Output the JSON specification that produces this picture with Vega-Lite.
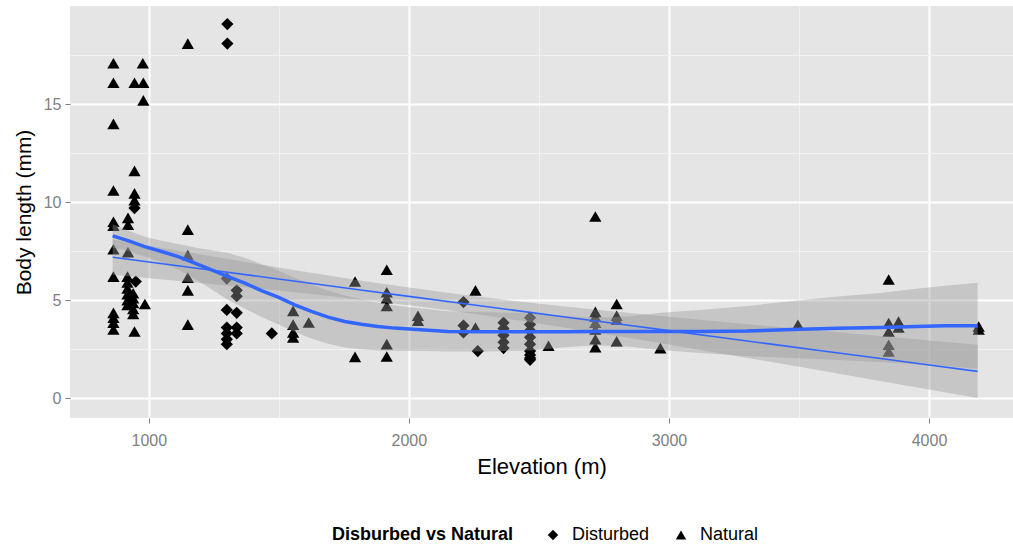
{
  "$schema": "https://vega.github.io/schema/vega-lite/v6.json",
  "width": 943,
  "height": 412,
  "autosize": {"type": "none"},
  "padding": {"left": 70, "top": 6, "right": 0, "bottom": 128},
  "background": "white",
  "config": {
    "view": {"fill": "#E5E5E5", "stroke": null},
    "font": "Liberation Sans",
    "axis": {"domain": false, "titleFontWeight": "normal", "titleColor": "black", "labelColor": "#7F7F7F", "tickColor": "#7F7F7F"}
  },
  "datasets": {
    "pts": [
      {"elevation": 864, "length": 17.1, "site": "Natural"},
      {"elevation": 864, "length": 16.1, "site": "Natural"},
      {"elevation": 864, "length": 14.0, "site": "Natural"},
      {"elevation": 864, "length": 10.6, "site": "Natural"},
      {"elevation": 864, "length": 9.0, "site": "Natural"},
      {"elevation": 864, "length": 8.8, "site": "Natural"},
      {"elevation": 864, "length": 7.6, "site": "Natural"},
      {"elevation": 864, "length": 6.2, "site": "Natural"},
      {"elevation": 864, "length": 4.35, "site": "Natural"},
      {"elevation": 864, "length": 4.1, "site": "Natural"},
      {"elevation": 864, "length": 3.85, "site": "Natural"},
      {"elevation": 864, "length": 3.5, "site": "Natural"},
      {"elevation": 920, "length": 9.2, "site": "Natural"},
      {"elevation": 920, "length": 8.85, "site": "Natural"},
      {"elevation": 920, "length": 7.45, "site": "Natural"},
      {"elevation": 918, "length": 6.2, "site": "Natural"},
      {"elevation": 918, "length": 5.9, "site": "Natural"},
      {"elevation": 918, "length": 5.6, "site": "Natural"},
      {"elevation": 918, "length": 5.3, "site": "Natural"},
      {"elevation": 918, "length": 5.0, "site": "Natural"},
      {"elevation": 918, "length": 4.75, "site": "Natural"},
      {"elevation": 945, "length": 16.1, "site": "Natural"},
      {"elevation": 945, "length": 11.6, "site": "Natural"},
      {"elevation": 945, "length": 10.45, "site": "Natural"},
      {"elevation": 945, "length": 10.1, "site": "Natural"},
      {"elevation": 945, "length": 9.7, "site": "Disturbed"},
      {"elevation": 950, "length": 5.95, "site": "Disturbed"},
      {"elevation": 940, "length": 5.35, "site": "Natural"},
      {"elevation": 940, "length": 5.1, "site": "Natural"},
      {"elevation": 940, "length": 4.85, "site": "Natural"},
      {"elevation": 940, "length": 4.55, "site": "Natural"},
      {"elevation": 940, "length": 4.3, "site": "Natural"},
      {"elevation": 945, "length": 3.4, "site": "Natural"},
      {"elevation": 977, "length": 17.1, "site": "Natural"},
      {"elevation": 979, "length": 16.1, "site": "Natural"},
      {"elevation": 979, "length": 15.2, "site": "Natural"},
      {"elevation": 985, "length": 4.8, "site": "Natural"},
      {"elevation": 1150, "length": 18.1, "site": "Natural"},
      {"elevation": 1150, "length": 8.6, "site": "Natural"},
      {"elevation": 1150, "length": 7.3, "site": "Natural"},
      {"elevation": 1150, "length": 6.15, "site": "Natural"},
      {"elevation": 1150, "length": 5.5, "site": "Natural"},
      {"elevation": 1150, "length": 3.75, "site": "Natural"},
      {"elevation": 1302, "length": 19.1, "site": "Disturbed"},
      {"elevation": 1302, "length": 18.1, "site": "Disturbed"},
      {"elevation": 1300, "length": 6.1, "site": "Disturbed"},
      {"elevation": 1300, "length": 4.5, "site": "Disturbed"},
      {"elevation": 1300, "length": 3.6, "site": "Disturbed"},
      {"elevation": 1300, "length": 3.3, "site": "Disturbed"},
      {"elevation": 1300, "length": 3.0, "site": "Disturbed"},
      {"elevation": 1300, "length": 2.75, "site": "Disturbed"},
      {"elevation": 1338, "length": 5.5, "site": "Disturbed"},
      {"elevation": 1338, "length": 5.2, "site": "Disturbed"},
      {"elevation": 1338, "length": 4.35, "site": "Disturbed"},
      {"elevation": 1338, "length": 3.6, "site": "Disturbed"},
      {"elevation": 1338, "length": 3.3, "site": "Disturbed"},
      {"elevation": 1473, "length": 3.3, "site": "Disturbed"},
      {"elevation": 1555, "length": 4.45, "site": "Natural"},
      {"elevation": 1555, "length": 3.75, "site": "Natural"},
      {"elevation": 1555, "length": 3.35, "site": "Natural"},
      {"elevation": 1555, "length": 3.1, "site": "Natural"},
      {"elevation": 1615, "length": 3.86, "site": "Natural"},
      {"elevation": 1793, "length": 5.95, "site": "Natural"},
      {"elevation": 1793, "length": 2.1, "site": "Natural"},
      {"elevation": 1915, "length": 6.55, "site": "Natural"},
      {"elevation": 1915, "length": 5.4, "site": "Natural"},
      {"elevation": 1915, "length": 5.1, "site": "Natural"},
      {"elevation": 1915, "length": 4.7, "site": "Natural"},
      {"elevation": 1915, "length": 2.75, "site": "Natural"},
      {"elevation": 1915, "length": 2.12, "site": "Natural"},
      {"elevation": 2035, "length": 4.2, "site": "Natural"},
      {"elevation": 2035, "length": 3.95, "site": "Natural"},
      {"elevation": 2210, "length": 4.9, "site": "Disturbed"},
      {"elevation": 2210, "length": 3.7, "site": "Disturbed"},
      {"elevation": 2210, "length": 3.35, "site": "Disturbed"},
      {"elevation": 2256, "length": 5.5, "site": "Natural"},
      {"elevation": 2256, "length": 3.6, "site": "Natural"},
      {"elevation": 2265, "length": 2.4, "site": "Disturbed"},
      {"elevation": 2364, "length": 3.85, "site": "Disturbed"},
      {"elevation": 2364, "length": 3.55, "site": "Disturbed"},
      {"elevation": 2364, "length": 3.2, "site": "Disturbed"},
      {"elevation": 2364, "length": 2.85, "site": "Disturbed"},
      {"elevation": 2364, "length": 2.55, "site": "Disturbed"},
      {"elevation": 2466, "length": 4.1, "site": "Disturbed"},
      {"elevation": 2466, "length": 3.75, "site": "Disturbed"},
      {"elevation": 2466, "length": 3.45, "site": "Disturbed"},
      {"elevation": 2466, "length": 3.1, "site": "Disturbed"},
      {"elevation": 2466, "length": 2.75, "site": "Disturbed"},
      {"elevation": 2466, "length": 2.4, "site": "Disturbed"},
      {"elevation": 2466, "length": 2.2, "site": "Disturbed"},
      {"elevation": 2466, "length": 2.05, "site": "Disturbed"},
      {"elevation": 2466, "length": 1.95, "site": "Disturbed"},
      {"elevation": 2537, "length": 2.67, "site": "Natural"},
      {"elevation": 2717, "length": 9.27, "site": "Natural"},
      {"elevation": 2717, "length": 4.4, "site": "Natural"},
      {"elevation": 2717, "length": 4.15, "site": "Natural"},
      {"elevation": 2717, "length": 3.85, "site": "Natural"},
      {"elevation": 2717, "length": 3.5, "site": "Natural"},
      {"elevation": 2717, "length": 3.0, "site": "Natural"},
      {"elevation": 2717, "length": 2.6, "site": "Natural"},
      {"elevation": 2799, "length": 4.8, "site": "Natural"},
      {"elevation": 2799, "length": 4.2, "site": "Natural"},
      {"elevation": 2799, "length": 4.0, "site": "Natural"},
      {"elevation": 2799, "length": 2.9, "site": "Natural"},
      {"elevation": 2967, "length": 2.55, "site": "Natural"},
      {"elevation": 3496, "length": 3.74, "site": "Natural"},
      {"elevation": 3845, "length": 6.05, "site": "Natural"},
      {"elevation": 3845, "length": 3.83, "site": "Natural"},
      {"elevation": 3845, "length": 3.4, "site": "Natural"},
      {"elevation": 3845, "length": 2.72, "site": "Natural"},
      {"elevation": 3845, "length": 2.38, "site": "Natural"},
      {"elevation": 3883, "length": 3.9, "site": "Natural"},
      {"elevation": 3883, "length": 3.6, "site": "Natural"},
      {"elevation": 4191, "length": 3.65, "site": "Natural"},
      {"elevation": 4191, "length": 3.5, "site": "Natural"}
    ],
    "loess": [
      {"elevation": 861, "fit": 8.28, "lo": 7.68, "hi": 8.88},
      {"elevation": 920, "fit": 8.04, "lo": 7.52, "hi": 8.56},
      {"elevation": 984, "fit": 7.73, "lo": 7.23, "hi": 8.23},
      {"elevation": 1049, "fit": 7.48, "lo": 6.93, "hi": 8.03},
      {"elevation": 1113, "fit": 7.22, "lo": 6.57, "hi": 7.87},
      {"elevation": 1177, "fit": 6.89, "lo": 6.09, "hi": 7.69},
      {"elevation": 1241, "fit": 6.55, "lo": 5.55, "hi": 7.55},
      {"elevation": 1305, "fit": 6.2, "lo": 5.0, "hi": 7.4},
      {"elevation": 1369, "fit": 5.87, "lo": 4.57, "hi": 7.17},
      {"elevation": 1433, "fit": 5.49, "lo": 4.14, "hi": 6.84},
      {"elevation": 1497, "fit": 5.15, "lo": 3.77, "hi": 6.53},
      {"elevation": 1561, "fit": 4.76, "lo": 3.38, "hi": 6.14},
      {"elevation": 1625, "fit": 4.42, "lo": 3.04, "hi": 5.8},
      {"elevation": 1689, "fit": 4.13, "lo": 2.77, "hi": 5.49},
      {"elevation": 1753, "fit": 3.91, "lo": 2.58, "hi": 5.24},
      {"elevation": 1817, "fit": 3.77, "lo": 2.49, "hi": 5.05},
      {"elevation": 1881, "fit": 3.65, "lo": 2.43, "hi": 4.87},
      {"elevation": 1945, "fit": 3.57, "lo": 2.42, "hi": 4.72},
      {"elevation": 2061, "fit": 3.48, "lo": 2.4, "hi": 4.56},
      {"elevation": 2150, "fit": 3.4, "lo": 2.37, "hi": 4.43},
      {"elevation": 2300, "fit": 3.38, "lo": 2.38, "hi": 4.38},
      {"elevation": 2466, "fit": 3.38, "lo": 2.43, "hi": 4.33},
      {"elevation": 2600, "fit": 3.39, "lo": 2.59, "hi": 4.19},
      {"elevation": 2717, "fit": 3.4, "lo": 2.7, "hi": 4.1},
      {"elevation": 2850, "fit": 3.4, "lo": 2.62, "hi": 4.18},
      {"elevation": 2967, "fit": 3.4, "lo": 2.45, "hi": 4.35},
      {"elevation": 3120, "fit": 3.4, "lo": 2.3, "hi": 4.5},
      {"elevation": 3300, "fit": 3.42, "lo": 2.14, "hi": 4.7},
      {"elevation": 3473, "fit": 3.5, "lo": 2.05, "hi": 4.95},
      {"elevation": 3650, "fit": 3.56, "lo": 1.94, "hi": 5.18},
      {"elevation": 3812, "fit": 3.6, "lo": 1.84, "hi": 5.36},
      {"elevation": 3950, "fit": 3.65, "lo": 1.72, "hi": 5.58},
      {"elevation": 4063, "fit": 3.69, "lo": 1.64, "hi": 5.74},
      {"elevation": 4187, "fit": 3.69, "lo": 1.49, "hi": 5.89}
    ],
    "lm": [
      {"elevation": 861, "fit": 7.19, "lo": 6.29, "hi": 8.09},
      {"elevation": 1000, "fit": 6.95, "lo": 6.12, "hi": 7.78},
      {"elevation": 1200, "fit": 6.6, "lo": 5.87, "hi": 7.33},
      {"elevation": 1400, "fit": 6.25, "lo": 5.62, "hi": 6.88},
      {"elevation": 1600, "fit": 5.9, "lo": 5.35, "hi": 6.45},
      {"elevation": 1800, "fit": 5.54, "lo": 5.05, "hi": 6.03},
      {"elevation": 2000, "fit": 5.19, "lo": 4.74, "hi": 5.64},
      {"elevation": 2200, "fit": 4.84, "lo": 4.39, "hi": 5.29},
      {"elevation": 2400, "fit": 4.49, "lo": 4.01, "hi": 4.97},
      {"elevation": 2600, "fit": 4.14, "lo": 3.6, "hi": 4.68},
      {"elevation": 2800, "fit": 3.79, "lo": 3.17, "hi": 4.41},
      {"elevation": 3000, "fit": 3.44, "lo": 2.73, "hi": 4.15},
      {"elevation": 3200, "fit": 3.09, "lo": 2.28, "hi": 3.9},
      {"elevation": 3400, "fit": 2.74, "lo": 1.83, "hi": 3.65},
      {"elevation": 3600, "fit": 2.39, "lo": 1.37, "hi": 3.41},
      {"elevation": 3800, "fit": 2.04, "lo": 0.9, "hi": 3.18},
      {"elevation": 4000, "fit": 1.69, "lo": 0.44, "hi": 2.94},
      {"elevation": 4187, "fit": 1.36, "lo": 0.0, "hi": 2.72}
    ]
  },
  "layer": [
    {
      "data": {"name": "pts"},
      "mark": {"type": "point", "filled": true, "color": "black", "opacity": 1, "size": 150, "strokeWidth": 0},
      "encoding": {
        "x": {"field": "elevation", "type": "quantitative", "scale": {"domain": [697, 4323], "nice": false, "zero": false},
          "axis": {"orient": "bottom", "values": [1000, 2000, 3000, 4000], "format": "d", "grid": true, "gridColor": "white", "gridWidth": 2, "tickSize": 5, "tickWidth": 1, "labelFontSize": 16, "labelPadding": 9, "title": "Elevation (m)", "titleFontSize": 22, "titlePadding": 8}},
        "y": {"field": "length", "type": "quantitative", "scale": {"domain": [-1.02, 20.02], "nice": false, "zero": false},
          "axis": {"orient": "left", "values": [0, 5, 10, 15], "grid": true, "gridColor": "white", "gridWidth": 2, "tickSize": 5, "tickWidth": 1, "labelFontSize": 16, "labelPadding": 4, "title": "Body length (mm)", "titleFontSize": 21, "titlePadding": 9}},
        "shape": {"field": "site", "type": "nominal",
          "scale": {"domain": ["Disturbed", "Natural"], "range": ["diamond", "triangle-up"]},
          "legend": {"orient": "none", "legendX": 262, "legendY": 520, "direction": "horizontal", "titleOrient": "left", "title": "Disburbed vs Natural", "titleLimit": 400, "titleFontWeight": "bold", "titleFontSize": 18, "titleColor": "black", "titleBaseline": "middle", "titlePadding": 30, "labelFontSize": 18, "labelColor": "black", "labelLimit": 300, "symbolFillColor": "black", "symbolStrokeWidth": 0, "symbolSize": 110, "columnPadding": 22, "labelOffset": 10}}
      }
    },
    {
      "data": {"name": "loess"},
      "mark": {"type": "area", "color": "#999999", "opacity": 0.4},
      "encoding": {
        "x": {"field": "elevation", "type": "quantitative", "scale": {"domain": [697, 4323], "nice": false, "zero": false},
          "axis": {"orient": "bottom", "values": [1500, 2500, 3500], "grid": true, "gridColor": "#F2F2F2", "gridWidth": 1, "labels": false, "ticks": false, "domain": false, "title": null}},
        "y": {"field": "lo", "type": "quantitative", "scale": {"domain": [-1.02, 20.02], "nice": false, "zero": false},
          "axis": {"orient": "left", "values": [2.5, 7.5, 12.5, 17.5], "grid": true, "gridColor": "#F2F2F2", "gridWidth": 1, "labels": false, "ticks": false, "domain": false, "title": null}},
        "y2": {"field": "hi"}
      }
    },
    {
      "data": {"name": "lm"},
      "mark": {"type": "area", "color": "#999999", "opacity": 0.4},
      "encoding": {
        "x": {"field": "elevation", "type": "quantitative", "scale": {"domain": [697, 4323], "nice": false, "zero": false}, "axis": null},
        "y": {"field": "lo", "type": "quantitative", "scale": {"domain": [-1.02, 20.02], "nice": false, "zero": false}, "axis": null},
        "y2": {"field": "hi"}
      }
    },
    {
      "data": {"name": "loess"},
      "mark": {"type": "line", "color": "#3366FF", "strokeWidth": 3.5},
      "encoding": {
        "x": {"field": "elevation", "type": "quantitative", "scale": {"domain": [697, 4323], "nice": false, "zero": false}, "axis": null},
        "y": {"field": "fit", "type": "quantitative", "scale": {"domain": [-1.02, 20.02], "nice": false, "zero": false}, "axis": null}
      }
    },
    {
      "data": {"name": "lm"},
      "mark": {"type": "line", "color": "#3366FF", "strokeWidth": 1.6},
      "encoding": {
        "x": {"field": "elevation", "type": "quantitative", "scale": {"domain": [697, 4323], "nice": false, "zero": false}, "axis": null},
        "y": {"field": "fit", "type": "quantitative", "scale": {"domain": [-1.02, 20.02], "nice": false, "zero": false}, "axis": null}
      }
    }
  ],
  "resolve": {"axis": {"x": "independent", "y": "independent"}}
}
